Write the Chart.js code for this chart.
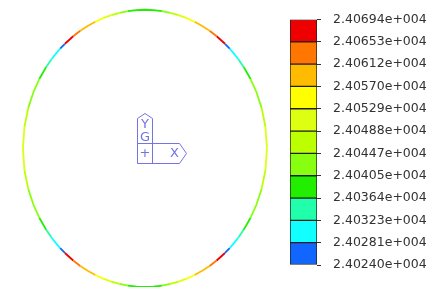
<!DOCTYPE html>
<html>
<head>
<meta charset="utf-8">
<script src="https://cdn.jsdelivr.net/npm/chart.js@4/dist/chart.umd.min.js"></script>
<style>
  html, body { margin: 0; padding: 0; background: #fff; }
  #wrap { position: relative; width: 435px; height: 287px; overflow: hidden; }
  #ring { position: absolute; left: 0; top: 0; }
  #legend { position: absolute; left: 285px; top: 0; }
</style>
</head>
<body>
<div id="wrap">
  <canvas id="ring" width="285" height="287"></canvas>
  <canvas id="legend" width="150" height="287"></canvas>
</div>
<script>
// contour levels (bottom -> top) and their printed labels
let level_values = [24024.0, 24028.1, 24032.3, 24036.4, 24040.5, 24044.7,
                    24048.8, 24052.9, 24057.0, 24061.2, 24065.3, 24069.4];
let level_labels = ['2.40240e+004', '2.40281e+004', '2.40323e+004', '2.40364e+004',
                    '2.40405e+004', '2.40447e+004', '2.40488e+004', '2.40529e+004',
                    '2.40570e+004', '2.40612e+004', '2.40653e+004', '2.40694e+004'];
let band_colors = ['#1166ff', '#11ffff', '#22ffaa', '#22ee00', '#88ff11', '#bbff00',
                   '#ddff11', '#ffff00', '#ffbb00', '#ff7700', '#ee0000'];

// ring section: semi axes (model units)
let ring_a = 50;
let ring_b = 56.8;

// values along one quarter of the ring, angle measured from the top (deg)
let quarter_angles = [0, 4, 8, 12, 16, 20, 24, 28, 32, 36, 41,
                      41, 44, 47, 50, 54, 60, 66, 73, 81, 90];
let quarter_values = [24038, 24039, 24041, 24044, 24047, 24051, 24055, 24059, 24063, 24066, 24069,
                      24025, 24027, 24030, 24034, 24037, 24039, 24042, 24046, 24049, 24050];

let band_color = function(v) {
    let i = 0;
    while (i < band_colors.length - 1 && v >= level_values[i + 1]) i++;
    return band_colors[i];
};

// the section is symmetric about both axes: mirror the quarter round the ring
let ring_data = [];
let quarters = [[90, -1], [90, 1], [270, -1], [270, 1]];
quarters.forEach(([base, sign]) => {
    let idx = quarter_angles.map((_, i) => i);
    if (sign < 0) idx.reverse();
    idx.forEach(i => {
        let t = (base + sign * quarter_angles[i]) * Math.PI / 180;
        ring_data.push({x: ring_a * Math.cos(t), y: ring_b * Math.sin(t), v: quarter_values[i]});
    });
});

let triad_plugin = {
    id: 'triad',
    afterDraw(chart) {
        let ctx = chart.ctx;
        let ox = Math.round(chart.scales.x.getPixelForValue(0)) + 0.5;
        let oy = Math.round(chart.scales.y.getPixelForValue(0)) + 0.5;
        ctx.save();
        ctx.strokeStyle = '#7373e6';
        ctx.fillStyle = '#7373e6';
        ctx.lineWidth = 1;
        ctx.beginPath();
        ctx.moveTo(ox - 8, oy + 15);
        ctx.lineTo(ox - 8, oy - 30);
        ctx.lineTo(ox - 0.5, oy - 35);
        ctx.lineTo(ox + 7, oy - 30);
        ctx.lineTo(ox + 7, oy + 15);
        ctx.moveTo(ox - 8, oy - 5);
        ctx.lineTo(ox + 34, oy - 5);
        ctx.lineTo(ox + 41, oy + 5);
        ctx.lineTo(ox + 34, oy + 15);
        ctx.lineTo(ox - 8, oy + 15);
        ctx.stroke();
        ctx.font = '13px "DejaVu Sans"';
        ctx.textAlign = 'center';
        ctx.textBaseline = 'middle';
        ctx.fillText('Y', ox - 0.5, oy - 24);
        ctx.fillText('G', ox - 0.5, oy - 11);
        ctx.fillText('+', ox - 0.5, oy + 5);
        ctx.fillText('X', ox + 29, oy + 5);
        ctx.restore();
    }
};

let ring_chart = new Chart(document.getElementById('ring').getContext('2d'), {
    type: 'scatter',
    data: {
        datasets: [{
            data: ring_data,
            showLine: true,
            pointRadius: 0,
            borderWidth: 1.8,
            clip: false,
            segment: {
                borderColor: c => band_color((ring_data[c.p0DataIndex].v + ring_data[c.p1DataIndex].v) / 2)
            }
        }]
    },
    options: {
        responsive: false,
        animation: false,
        layout: {padding: 0},
        plugins: {legend: {display: false}, tooltip: {enabled: false}},
        scales: {
            x: {display: false, min: -59.4, max: 57.4},
            y: {display: false, min: -56.8, max: 60.8}
        }
    },
    plugins: [triad_plugin]
});

let legend_chart = new Chart(document.getElementById('legend').getContext('2d'), {
    type: 'bar',
    data: {
        labels: [''],
        datasets: band_colors.map((color, i) => ({
            data: [[i, i + 1]],
            backgroundColor: color,
            borderColor: '#1e1e1e',
            borderWidth: 1,
            borderSkipped: false,
            barPercentage: 1,
            categoryPercentage: 1,
            grouped: false
        }))
    },
    options: {
        responsive: false,
        animation: false,
        layout: {padding: {left: 5, top: 19, bottom: 22, right: 0}},
        plugins: {legend: {display: false}, tooltip: {enabled: false}},
        scales: {
            x: {display: false},
            y: {
                position: 'right',
                min: 0,
                max: level_labels.length - 1,
                afterBuildTicks: s => { s.ticks = level_labels.map((_, i) => ({value: i})); },
                afterFit: s => { s.width = 118; },
                grid: {drawOnChartArea: false, tickLength: 4, color: '#333'},
                border: {display: false},
                ticks: {
                    padding: 12,
                    color: '#333',
                    font: {family: 'DejaVu Sans', size: 12.5},
                    callback: (v, i) => level_labels[i]
                }
            }
        }
    }
});
</script>
</body>
</html>
